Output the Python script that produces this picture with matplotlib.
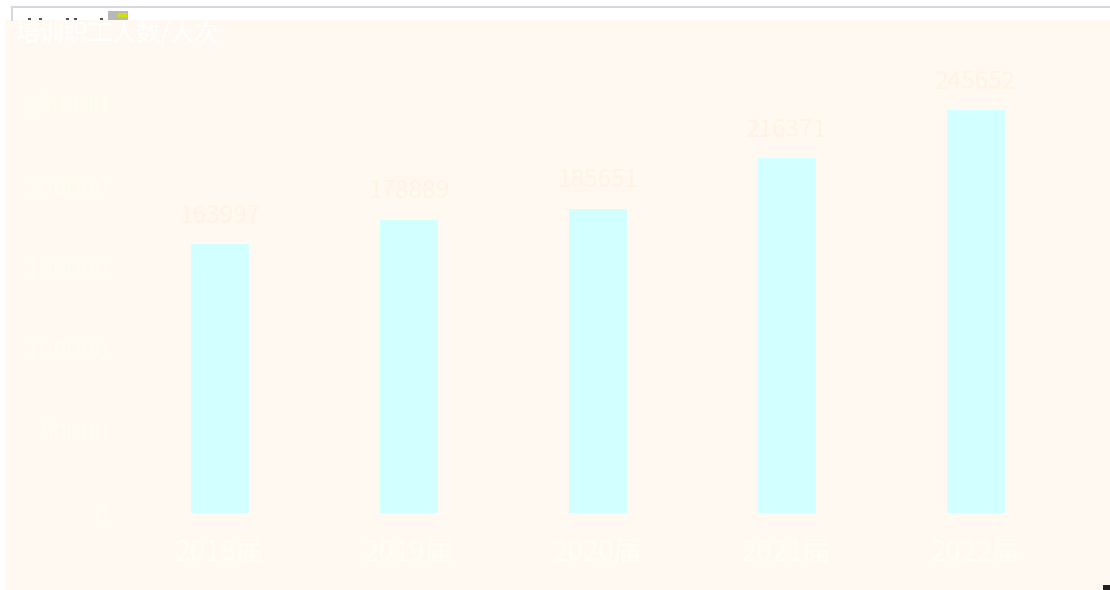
import matplotlib
matplotlib.use("Agg")
import matplotlib.pyplot as plt
from matplotlib.patches import Rectangle
from matplotlib.lines import Line2D

plt.rcParams['font.family'] = ['Noto Sans CJK SC', 'DejaVu Sans']

title = "培训职工人数/人次"
categories = ["2018届", "2019届", "2020届", "2021届", "2022届"]
values = [163997, 178889, 185651, 216371, 245652]
yticks = [0, 50000, 100000, 150000, 200000, 250000]

W, H = 1110, 590
fig = plt.figure(figsize=(W / 100, H / 100), dpi=100, facecolor="white")

def fx(px):
    return px / W

def fy(py):
    return 1 - py / H

bg = "#fff9f2"
# cream panel
fig.patches.append(Rectangle((fx(5), 0), fx(W - 5), fy(20), transform=fig.transFigure,
                             facecolor=bg, edgecolor="none", zorder=-5))
# top frame line
fig.lines.append(Line2D([fx(12), 1], [fy(7), fy(7)], transform=fig.transFigure,
                        color="#d8d8e0", lw=1.5))
fig.lines.append(Line2D([fx(12), fx(12)], [fy(7), fy(20)], transform=fig.transFigure,
                        color="#d8d8e0", lw=1.5))
# small toolbar icon
fig.patches.append(Rectangle((fx(108), fy(20)), fx(20), fy(11) - fy(20), transform=fig.transFigure,
                             facecolor="#b8b8b8", edgecolor="none"))
fig.patches.append(Rectangle((fx(118), fy(17)), fx(9), fy(13) - fy(17), transform=fig.transFigure,
                             facecolor="#d4e000", edgecolor="none"))
for x in [28, 39, 66, 74, 100]:
    fig.patches.append(Rectangle((fx(x), fy(20)), fx(3), fy(18) - fy(20), transform=fig.transFigure,
                                 facecolor="#555555", edgecolor="none"))
# bottom-right marker
fig.patches.append(Rectangle((fx(1103), 0), fx(7), fy(585), transform=fig.transFigure,
                             facecolor="#222222", edgecolor="none"))

ax = fig.add_axes([fx(125.5), fy(513), fx(945), fy(103) - fy(513)])
ax.set_zorder(5)
ax.set_facecolor("none")
x = list(range(len(categories)))
ax.bar(x, values, width=0.31, color="#d2ffff", edgecolor="none")
ax.set_xlim(-0.5, len(categories) - 0.5)
ax.set_ylim(0, 250000)
ax.set_yticks(yticks)
ax.set_yticklabels([str(v) for v in yticks], fontsize=18, color="#fffcf0")
ax.set_xticks(x)
ax.set_xticklabels(categories, fontsize=20, color="#fffdf5")
ax.tick_params(length=0, pad=12)
ax.tick_params(axis="x", pad=18)
for s in ax.spines.values():
    s.set_visible(False)
for xi, v in zip(x, values):
    ax.annotate(str(v), (xi, v), xytext=(0, 11), textcoords="offset points",
                ha="center", va="bottom", fontsize=17.5, color="#fff4e4", clip_on=False)

fig.text(fx(15), fy(35), title, fontsize=17.5, color="white", ha="left", va="center", zorder=6)

fig.savefig("out.png", dpi=100, facecolor="white")
